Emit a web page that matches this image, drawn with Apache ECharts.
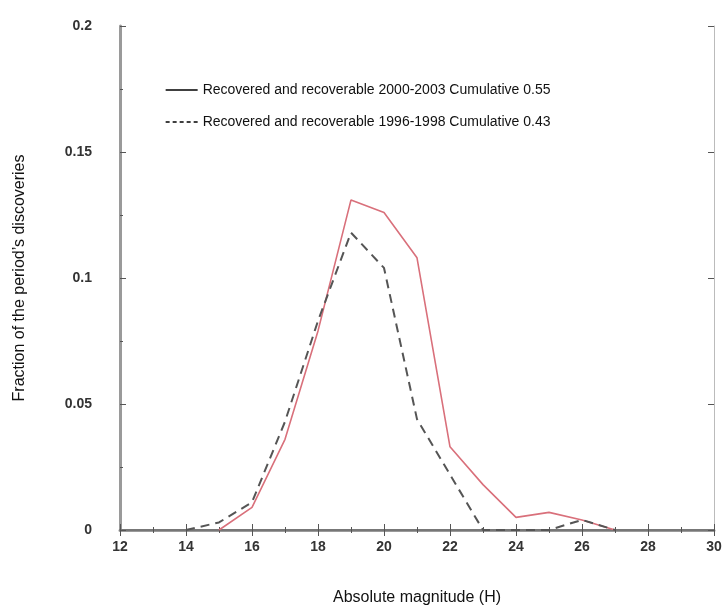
<!DOCTYPE html>
<html>
<head>
<meta charset="utf-8">
<script src="https://cdn.jsdelivr.net/npm/echarts@6/dist/echarts.min.js"></script>
<style>
  html, body { margin: 0; padding: 0; background: #fff; }
  #main { width: 728px; height: 610px; }
</style>
</head>
<body>
<div id="main"></div>
<script>
// absolute magnitude H
var magRecent = [15, 16, 17, 18, 19, 20, 21, 22, 23, 24, 25, 26, 27];
var fracRecent = [0, 0.009, 0.036, 0.079, 0.131, 0.126, 0.108, 0.033, 0.018, 0.005, 0.007, 0.004, 0];
var magOld = [14, 15, 16, 17, 18, 19, 20, 21, 22, 23, 24, 25, 26, 27];
var fracOld = [0, 0.003, 0.011, 0.043, 0.083, 0.118, 0.104, 0.044, 0.022, 0, 0, 0, 0.004, 0];
var names = [
    'Recovered and recoverable 2000-2003 Cumulative 0.55',
    'Recovered and recoverable 1996-1998 Cumulative 0.43'
];

function pairs(xs, ys) {
    var out = [];
    for (var i = 0; i < xs.length; i++) out.push([xs[i], ys[i]]);
    return out;
}

var myChart = echarts.init(document.getElementById('main'));

var axisGrey = {color: '#9a9a9a', width: 3};
var tickStyle = {color: '#555', width: 1};

var option = {
    backgroundColor: '#fff',
    animation: false,
    textStyle: {fontFamily: 'Arial'},
    grid: {left: 120, right: 14, top: 26, bottom: 80, outerBoundsMode: 'none'},
    legend: {
        orient: 'vertical',
        left: 160,
        top: 78,
        itemWidth: 32,
        itemHeight: 14,
        itemGap: 18,
        textStyle: {fontSize: 14, color: '#111', fontFamily: 'Arial'},
        data: [
            {name: names[0], itemStyle: {opacity: 0}, lineStyle: {color: '#000', width: 1.3, type: 'solid'}},
            {name: names[1], itemStyle: {opacity: 0}, lineStyle: {color: '#000', width: 1.3, type: [4, 3]}}
        ]
    },
    xAxis: [{
        type: 'value',
        min: 12,
        max: 30,
        interval: 2,
        name: 'Absolute magnitude (H)',
        nameLocation: 'middle',
        nameGap: 60,
        nameTextStyle: {fontSize: 16, color: '#111'},
        axisLine: {lineStyle: axisGrey},
        axisTick: {inside: true, length: 6, lineStyle: tickStyle},
        minorTick: {show: true, splitNumber: 2, length: 3, lineStyle: tickStyle},
        axisLabel: {fontSize: 14, color: '#333', fontWeight: 'bold', margin: 10},
        splitLine: {show: false}
    }, {
        type: 'value',
        position: 'top',
        min: 12,
        max: 30,
        interval: 2,
        axisLine: {lineStyle: {color: '#777', width: 2}},
        axisTick: {inside: true, length: 6, lineStyle: tickStyle},
        minorTick: {show: true, splitNumber: 2, length: 3, lineStyle: tickStyle},
        axisLabel: {show: false},
        splitLine: {show: false}
    }],
    yAxis: [{
        type: 'value',
        min: 0,
        max: 0.2,
        interval: 0.05,
        name: 'Fraction of the period\u2019s discoveries',
        nameLocation: 'middle',
        nameGap: 92,
        nameTextStyle: {fontSize: 16, color: '#111'},
        axisLine: {show: true, lineStyle: axisGrey},
        axisTick: {show: true, inside: true, length: 6, lineStyle: tickStyle},
        minorTick: {show: true, splitNumber: 2, length: 3, lineStyle: tickStyle},
        axisLabel: {fontSize: 14, color: '#333', fontWeight: 'bold', margin: 28},
        splitLine: {show: false}
    }, {
        type: 'value',
        position: 'right',
        min: 0,
        max: 0.2,
        interval: 0.05,
        axisLine: {show: true, lineStyle: {color: '#bbb', width: 1}},
        axisTick: {show: true, inside: true, length: 6, lineStyle: tickStyle},
        axisLabel: {show: false},
        splitLine: {show: false}
    }],
    series: [{
        name: names[0],
        type: 'line',
        symbol: 'none',
        data: pairs(magRecent, fracRecent),
        lineStyle: {color: '#d9707b', width: 1.6},
        itemStyle: {color: '#d9707b'}
    }, {
        name: names[1],
        type: 'line',
        symbol: 'none',
        data: pairs(magOld, fracOld),
        lineStyle: {color: '#555', width: 2, type: [9, 6]},
        itemStyle: {color: '#555'}
    }]
};
myChart.setOption(option);
window.onresize = function () {
    myChart.resize();
};
</script>
</body>
</html>
